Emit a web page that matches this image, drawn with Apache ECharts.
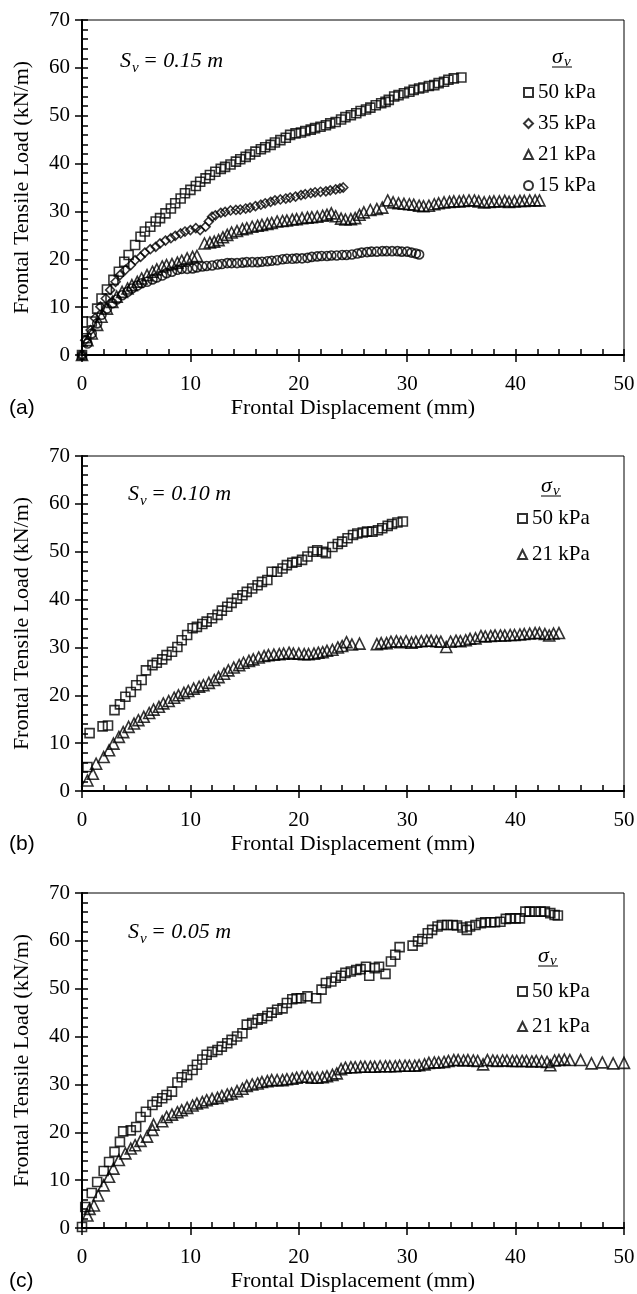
<!DOCTYPE html>
<html>
<head>
<meta charset="utf-8">
<script src="https://cdn.jsdelivr.net/npm/echarts@6/dist/echarts.min.js"></script>
<style>
  html, body { margin: 0; padding: 0; background: #fff; }
  #chart { width: 637px; height: 1294px; }
</style>
</head>
<body>
<div id="chart"></div>
<script>
// panel (a) Sv = 0.15 m
const a50 = [[0,0],[0.4,3.5],[0.9,7],[1.4,9.7],[1.8,11.8],[2.3,13.7],[2.9,15.7],[3.4,17.4],[3.9,19.5],[4.3,20.9],[4.9,23],[5.4,24.7],[5.8,25.8],[6.3,26.8],[6.8,27.9],[7.2,28.6],[7.7,29.6],[8.2,30.6],[8.6,31.7],[9.1,32.7],[9.5,33.8],[10,34.5],[10.5,35.3],[10.9,36.2],[11.4,36.9],[11.8,37.6],[12.3,38.3],[12.8,38.9],[13.2,39.3],[13.7,39.8],[14.2,40.4],[14.6,40.9],[15.1,41.4],[15.5,41.9],[16,42.5],[16.5,43],[16.9,43.4],[17.4,43.9],[17.8,44.4],[18.3,44.9],[18.8,45.4],[19.2,46],[19.7,46.3],[20.2,46.5],[20.6,46.8],[21.1,47.1],[21.5,47.4],[22,47.7],[22.5,48],[22.9,48.4],[23.4,48.7],[23.9,49.2],[24.3,49.7],[24.8,50.1],[25.3,50.5],[25.7,51],[26.2,51.3],[26.6,51.7],[27.1,52.2],[27.6,52.6],[28,52.9],[28.3,53.3],[28.8,54],[29.2,54.3],[29.7,54.7],[30.2,55],[30.6,55.4],[31.1,55.7],[31.5,55.9],[32,56.2],[32.5,56.4],[32.9,56.8],[33.4,57.1],[33.8,57.5],[34.3,57.8],[35,58]];
const a35 = [[0,0],[0.3,3.1],[0.8,5.2],[1.2,7.7],[1.7,10.1],[2.2,11.8],[2.6,13.6],[3.1,15.3],[3.5,16.7],[4,17.8],[4.5,18.8],[4.9,19.8],[5.4,20.5],[5.8,21.4],[6.3,22.1],[6.8,22.6],[7.2,23.3],[7.7,23.9],[8.2,24.4],[8.6,24.9],[9.1,25.4],[9.5,25.8],[10,26.1],[10.5,26.5],[10.9,26.1],[11.4,26.8],[11.7,27.9],[12,28.9],[12.3,29.2],[12.8,29.7],[13.2,29.9],[13.7,30.2],[14.2,30.3],[14.6,30.4],[15.1,30.6],[15.5,30.8],[16,31.1],[16.5,31.4],[16.9,31.7],[17.4,32],[17.8,32.3],[18.3,32.5],[18.8,32.7],[19.2,32.9],[19.7,33.1],[20.2,33.4],[20.6,33.6],[21.1,33.8],[21.5,34],[22,34.1],[22.5,34.2],[22.9,34.4],[23.4,34.6],[23.8,34.8],[24.1,35]];
const a21 = [[0,0],[0.5,3.1],[0.9,4.5],[1.4,6.3],[1.8,8],[2.3,9.7],[2.8,11.1],[3.2,12.2],[3.7,13.2],[4.2,13.9],[4.6,14.6],[5.1,15.3],[5.5,16],[6,16.7],[6.5,17.4],[6.9,17.9],[7.4,18.5],[7.8,18.8],[8.3,19],[8.8,19.3],[9.2,19.7],[9.7,20.2],[10.2,20.5],[10.6,20.7],[11.3,23.3],[11.8,23.5],[12.2,23.7],[12.6,24],[13,24.6],[13.4,25.1],[13.8,25.6],[14.3,25.9],[14.8,26.3],[15.2,26.5],[15.7,26.8],[16.2,27],[16.6,27.2],[17.1,27.4],[17.5,27.6],[18,27.9],[18.5,28],[18.9,28.1],[19.4,28.3],[19.8,28.4],[20.3,28.6],[20.8,28.7],[21.2,28.8],[21.7,28.9],[22.2,29.1],[22.6,29.3],[23,29.6],[23.4,29],[23.9,28.5],[24.3,28.3],[24.8,28.4],[25.2,28.6],[25.6,29.3],[26,29.8],[26.6,30.3],[27.2,30.5],[27.7,30.8],[28.2,32.3],[28.7,31.9],[29.2,31.7],[29.7,31.6],[30.2,31.5],[30.6,31.4],[31.1,31.2],[31.5,31.1],[32,31.2],[32.5,31.5],[32.9,31.7],[33.4,31.9],[33.9,32],[34.3,32.1],[34.8,32.1],[35.2,32.2],[35.7,32.3],[36.2,32.3],[36.6,32.1],[37.1,31.9],[37.6,32],[38,32.1],[38.5,32.1],[39,32.2],[39.4,32],[39.9,32.1],[40.4,32.2],[40.8,32.2],[41.3,32.3],[41.8,32.3],[42.2,32.3]];
const a15 = [[0,0],[0.5,2.4],[0.9,4.5],[1.4,6.6],[1.8,8.4],[2.3,9.7],[2.8,10.8],[3.2,11.6],[3.7,12.5],[4.2,13.2],[4.6,13.9],[5.1,14.5],[5.5,15],[6,15.3],[6.5,15.8],[6.9,16.2],[7.4,16.6],[7.8,17.1],[8.3,17.4],[8.8,17.8],[9.2,18],[9.7,18],[10.2,18.1],[10.6,18.3],[11.1,18.5],[11.5,18.6],[12,18.7],[12.5,18.9],[12.9,19],[13.4,19.2],[13.8,19.2],[14.3,19.2],[14.8,19.3],[15.2,19.4],[15.7,19.4],[16.2,19.4],[16.6,19.5],[17.1,19.6],[17.5,19.7],[18,19.8],[18.5,20],[18.9,20.1],[19.4,20.1],[19.8,20.2],[20.3,20.2],[20.8,20.3],[21.2,20.5],[21.7,20.6],[22.1,20.7],[22.6,20.7],[23,20.8],[23.5,20.8],[24,20.9],[24.4,20.9],[24.9,21],[25.4,21.2],[25.8,21.4],[26.3,21.5],[26.7,21.6],[27.2,21.6],[27.7,21.7],[28.1,21.7],[28.6,21.7],[29.1,21.7],[29.5,21.6],[30,21.6],[30.4,21.4],[30.8,21.2],[31.1,21]];

// panel (b) Sv = 0.10 m
const b50 = [[0.5,5],[0.7,12.1],[1.9,13.5],[2.4,13.7],[3,16.9],[3.5,18.1],[4,19.7],[4.5,20.7],[5,22.1],[5.5,23.2],[5.9,25.2],[6.5,26.3],[6.9,26.8],[7.4,27.5],[7.8,28.4],[8.3,29.1],[8.8,30.1],[9.2,31.5],[9.7,32.6],[10.2,34],[10.6,34.3],[11.1,34.9],[11.5,35.4],[12,36.1],[12.5,36.8],[12.9,37.7],[13.4,38.5],[13.8,39.3],[14.3,40.2],[14.8,40.9],[15.2,41.6],[15.7,42.3],[16.2,43],[16.6,43.7],[17.1,44.1],[17.5,45.8],[18,45.8],[18.5,46.5],[18.9,47.2],[19.4,47.7],[19.8,47.9],[20.3,48.3],[20.8,49],[21.3,50],[21.7,50.3],[22.2,50],[22.5,49.7],[23.1,51],[23.6,51.6],[24,52.1],[24.5,52.8],[25,53.5],[25.4,53.8],[25.9,54],[26.3,54.2],[26.8,54.2],[27.3,54.5],[27.7,54.9],[28.2,55.4],[28.6,55.8],[29.1,56.1],[29.6,56.3]];
const b21 = [[0.5,2.2],[1,3.6],[1.3,5.7],[2,7.1],[2.5,8.5],[2.9,9.9],[3.4,11.3],[3.8,12.3],[4.3,13.4],[4.8,14.1],[5.2,14.8],[5.7,15.5],[6.2,16.3],[6.6,17],[7.1,17.6],[7.5,18.3],[8,18.8],[8.5,19.5],[8.9,20],[9.4,20.5],[9.8,20.9],[10.3,21.4],[10.8,21.8],[11.2,22.1],[11.7,22.6],[12.2,23.2],[12.6,23.8],[13.1,24.5],[13.5,25.2],[14,25.8],[14.5,26.3],[14.9,26.8],[15.4,27.2],[15.8,27.5],[16.3,27.9],[16.8,28.2],[17.2,28.4],[17.7,28.5],[18.2,28.6],[18.6,28.7],[19.1,28.9],[19.5,28.7],[20,28.7],[20.5,28.6],[20.9,28.6],[21.4,28.7],[21.8,28.9],[22.2,29],[22.6,29.3],[23.1,29.5],[23.6,30],[24,30.3],[24.4,31.1],[24.9,30.6],[25.6,30.8],[27.2,30.7],[27.6,30.9],[28.1,30.9],[28.5,31.2],[29,31.3],[29.4,31.1],[29.9,31.3],[30.4,31],[30.8,31.2],[31.3,31.3],[31.8,31.4],[32.2,31.4],[32.7,31.3],[33.1,31.2],[33.6,30.1],[34,31.2],[34.5,31.4],[34.9,31.3],[35.4,31.5],[35.8,31.8],[36.3,31.9],[36.8,32.4],[37.2,32.3],[37.7,32.4],[38.1,32.5],[38.6,32.5],[39,32.5],[39.5,32.6],[39.9,32.6],[40.4,32.7],[40.8,32.8],[41.3,32.9],[41.8,33],[42.2,33],[42.7,32.8],[43.1,32.5],[43.5,32.9],[44,33]];

// panel (c) Sv = 0.05 m
const c50 = [[0,0.2],[0.3,4.4],[0.9,7.3],[1.4,9.6],[2,11.9],[2.5,13.8],[3,15.9],[3.5,18],[3.8,20.2],[4.5,20.4],[5,21.1],[5.4,23.2],[5.9,24.3],[6.5,25.7],[6.9,26.4],[7.4,27.1],[7.8,27.8],[8.3,28.5],[8.8,30.4],[9.2,31.5],[9.7,32],[10.2,33],[10.6,34.1],[11.1,35.2],[11.5,36.2],[12,36.8],[12.5,37.2],[12.9,37.9],[13.4,38.6],[13.8,39.3],[14.3,40],[14.8,40.7],[15.2,42.5],[15.7,42.8],[16.2,43.5],[16.6,43.8],[17.1,44.3],[17.5,45],[18,45.6],[18.5,45.9],[18.9,47],[19.4,47.8],[19.8,48],[20.2,48],[20.8,48.4],[21.6,48],[22.1,49.8],[22.5,51.2],[23,51.5],[23.4,52.3],[23.9,52.7],[24.3,53.3],[24.8,53.6],[25.3,53.9],[25.7,54.1],[26.2,54.6],[26.5,52.7],[27,54.3],[27.4,54.6],[28,53.1],[28.5,55.7],[28.9,57.1],[29.3,58.7],[30.5,59],[31,59.9],[31.4,60.4],[31.9,61.6],[32.3,62.3],[32.8,63],[33.2,63.3],[33.7,63.3],[34.2,63.3],[34.6,63.2],[35.1,62.8],[35.5,62.3],[35.8,63],[36.3,63.3],[36.8,63.7],[37.2,63.9],[37.7,63.9],[38.1,63.9],[38.6,64],[39.1,64.6],[39.5,64.7],[40,64.7],[40.4,64.7],[40.9,66.1],[41.3,66.1],[41.8,66.1],[42.3,66.1],[42.7,66.1],[43.2,65.8],[43.6,65.4],[43.9,65.3]];
const c21 = [[0.5,2.6],[0.7,4],[1.1,4.7],[1.5,6.8],[2,8.9],[2.5,10.7],[2.9,12.4],[3.4,14.2],[4,15.6],[4.5,16.6],[4.9,17.3],[5.4,18.2],[6,19.1],[6.5,20.5],[6.6,21.6],[7.4,22.3],[7.8,23.2],[8.3,23.7],[8.8,24.2],[9.2,24.6],[9.7,25.1],[10.2,25.6],[10.6,26],[11.1,26.3],[11.5,26.7],[12,27],[12.5,27.2],[12.9,27.6],[13.4,27.9],[13.8,28.1],[14.3,28.6],[14.8,29.1],[15.2,29.7],[15.7,30],[16.2,30.2],[16.6,30.5],[17.1,30.7],[17.5,30.9],[18,30.9],[18.5,30.9],[18.9,31.1],[19.4,31.2],[19.8,31.4],[20.3,31.6],[20.8,31.6],[21.2,31.4],[21.7,31.4],[22.2,31.5],[22.6,31.7],[23.1,32],[23.5,32.3],[23.9,33.2],[24.3,33.5],[24.8,33.6],[25.2,33.6],[25.7,33.7],[26.1,33.7],[26.6,33.7],[27,33.7],[27.5,33.8],[28,33.8],[28.4,33.8],[28.9,33.8],[29.3,33.9],[29.8,33.9],[30.2,33.9],[30.7,33.9],[31.1,34],[31.6,34.2],[32,34.5],[32.5,34.6],[32.9,34.6],[33.4,34.7],[33.8,34.9],[34.3,35.1],[34.7,35.1],[35.2,35],[35.6,35.1],[36.1,35],[36.5,34.9],[37,34.2],[37.4,35.1],[37.9,35],[38.3,34.9],[38.8,35],[39.2,35],[39.7,34.9],[40.1,34.9],[40.6,34.9],[41,34.9],[41.5,34.8],[41.9,34.9],[42.4,34.8],[42.9,34.7],[43.2,34],[43.6,35],[44,35.1],[44.5,35.2],[45,35.1],[46,35.1],[47,34.4],[48,34.6],[49,34.4],[50,34.5]];

const panelLabels = ['(a)', '(b)', '(c)'];
const svLabels = ['0.15 m', '0.10 m', '0.05 m'];
const xTitle = 'Frontal Displacement (mm)';
const yTitle = 'Frontal Tensile Load (kN/m)';

const serif = 'Liberation Serif';
const gridTops = [20, 456, 893];
const gridH = 335;

const chart = echarts.init(document.getElementById('chart'), null, { renderer: 'canvas' });

function xAxisFor(i) {
  return {
    type: 'value', gridIndex: i, position: 'bottom', min: 0, max: 50, interval: 10,
    axisLine: { lineStyle: { color: '#000', width: 2 } },
    axisTick: { show: true, inside: false, length: 7, lineStyle: { color: '#000', width: 1.5 } },
    splitLine: { show: false },
    axisLabel: { color: '#000', fontFamily: serif, fontSize: 21, margin: 19 },
    name: xTitle, nameLocation: 'middle', nameGap: 42, nameMoveOverlap: false,
    nameTextStyle: { color: '#000', fontFamily: serif, fontSize: 22 }
  };
}
function yAxisFor(i) {
  return {
    type: 'value', gridIndex: i, position: 'left', min: 0, max: 70, interval: 10,
    axisLine: { lineStyle: { color: '#000', width: 2 } },
    axisTick: { show: true, inside: false, length: 7, lineStyle: { color: '#000', width: 1.5 } },
    splitLine: { show: false },
    axisLabel: { color: '#000', fontFamily: serif, fontSize: 21, margin: 12 },
    name: yTitle, nameLocation: 'middle', nameGap: 49, nameMoveOverlap: false,
    nameTextStyle: { color: '#000', fontFamily: serif, fontSize: 22 }
  };
}
// extra label-less axes, only for the small inward ticks every 2 units
function xMinorFor(i) {
  return {
    type: 'value', gridIndex: i, position: 'bottom', offset: 0, min: 0, max: 50, interval: 2,
    axisLine: { show: false },
    axisTick: { show: true, inside: true, length: 6, lineStyle: { color: '#000', width: 1.5 } },
    axisLabel: { show: false }, splitLine: { show: false }
  };
}
function yMinorFor(i) {
  return {
    type: 'value', gridIndex: i, position: 'left', offset: 0, min: 0, max: 70, interval: 2,
    axisLine: { show: false },
    axisTick: { show: true, inside: true, length: 6, lineStyle: { color: '#000', width: 1.5 } },
    axisLabel: { show: false }, splitLine: { show: false }
  };
}

function pts(name, data, i, symbol, size) {
  return {
    name: name, type: 'scatter', xAxisIndex: i, yAxisIndex: i,
    data: data, symbol: symbol, symbolSize: size, silent: true,
    itemStyle: { color: 'transparent', borderColor: '#000', borderWidth: 1.6 },
    emphasis: { disabled: true }
  };
}

function legendFor(left, top, gap, names) {
  return {
    orient: 'vertical', left: left, top: top, padding: 0, itemGap: gap,
    itemWidth: 9, itemHeight: 9, selectedMode: false,
    textStyle: { color: '#000', fontFamily: serif, fontSize: 21 },
    data: names
  };
}

// sigma_v header, underlined, for the legend boxes
function sigmaHead(x, y) {
  return [
    { type: 'text', x: x, y: y, style: { text: 'σ', font: 'italic 22px "Liberation Serif"', fill: '#000', verticalAlign: 'middle' } },
    { type: 'text', x: x + 12, y: y + 5, style: { text: 'v', font: 'italic 15px "Liberation Serif"', fill: '#000', verticalAlign: 'middle' } },
    { type: 'line', shape: { x1: x, y1: y + 10, x2: x + 20, y2: y + 10 }, style: { stroke: '#000', lineWidth: 1 } }
  ];
}
function svText(x, y, val) {
  return [
    { type: 'text', x: x, y: y, style: { text: 'S', font: 'italic 22px "Liberation Serif"', fill: '#000', verticalAlign: 'middle' } },
    { type: 'text', x: x + 12, y: y + 7, style: { text: 'v', font: 'italic 15px "Liberation Serif"', fill: '#000', verticalAlign: 'middle' } },
    { type: 'text', x: x + 23, y: y, style: { text: '= ' + val, font: 'italic 22px "Liberation Serif"', fill: '#000', verticalAlign: 'middle' } }
  ];
}

let graphics = [];
graphics = graphics.concat(svText(120, 61, svLabels[0]), svText(128, 494, svLabels[1]), svText(128, 932, svLabels[2]));
graphics = graphics.concat(sigmaHead(552, 57), sigmaHead(541, 486), sigmaHead(538, 956));
const labelYs = [408, 844, 1281];
panelLabels.forEach((t, i) => {
  graphics.push({ type: 'text', x: 9, y: labelYs[i], style: { text: t, font: '21px "Liberation Sans"', fill: '#000', verticalAlign: 'middle' } });
});

const option = {
  backgroundColor: '#fff',
  animation: false,
  grid: gridTops.map(t => ({
    left: 82, right: 13, top: t, height: gridH,
    show: true, borderColor: '#000', borderWidth: 1, backgroundColor: 'transparent',
    containLabel: false, outerBoundsMode: 'none'
  })),
  xAxis: [0, 1, 2].map(xAxisFor).concat([0, 1, 2].map(xMinorFor)),
  yAxis: [0, 1, 2].map(yAxisFor).concat([0, 1, 2].map(yMinorFor)),
  legend: [
    legendFor(523, 82, 10, ['50 kPa', '35 kPa', '21 kPa', '15 kPa']),
    legendFor(517, 508, 15, ['50 kPa', '21 kPa']),
    legendFor(517, 981, 14, ['50 kPa', '21 kPa'])
  ],
  series: [
    pts('50 kPa', a50, 0, 'rect', 9),
    pts('35 kPa', a35, 0, 'diamond', 9),
    pts('21 kPa', a21, 0, 'triangle', 11),
    pts('15 kPa', a15, 0, 'circle', 9),
    pts('50 kPa', b50, 1, 'rect', 9),
    pts('21 kPa', b21, 1, 'triangle', 11),
    pts('50 kPa', c50, 2, 'rect', 9),
    pts('21 kPa', c21, 2, 'triangle', 11)
  ],
  graphic: graphics
};
chart.setOption(option);
</script>
</body>
</html>
